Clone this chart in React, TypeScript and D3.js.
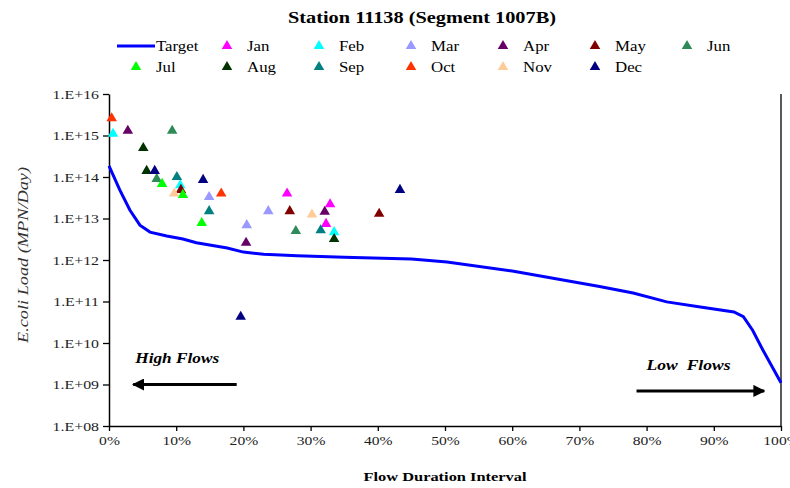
import React, { useEffect, useRef } from 'react';
import * as d3 from 'd3';

// Courbe cible (load duration curve)
const targetPct = [0, 1.6, 3.1, 4.6, 6.1, 8.6, 11, 13, 17.6, 20, 23, 28, 35, 45, 50.3, 60, 73, 78, 83, 88, 93, 94.4, 95.8, 97.3, 100];
const targetLoad = [1.86e14, 4.9e13, 1.6e13, 6.9e12, 4.7e12, 3.8e12, 3.2e12, 2.6e12, 1.95e12, 1.55e12, 1.38e12, 1.26e12, 1.17e12, 1.05e12, 8.9e11, 5.4e11, 2.3e11, 1.6e11, 9.8e10, 7.4e10, 5.6e10, 4.3e10, 2.0e10, 6.8e9, 1.1e9];

// Prélèvements
const months = ['Jan', 'Feb', 'Mar', 'Apr', 'May', 'Jun', 'Jul', 'Aug', 'Sep', 'Oct', 'Nov', 'Dec'];
const monthColors = ['#ff00ff', '#00ffff', '#9999ff', '#660066', '#800000', '#2e8b57', '#00ff00', '#003300', '#008080', '#ff3300', '#ffcc99', '#000080'];
const sampleMonth = ['Jan', 'Jan', 'Jan', 'Feb', 'Feb', 'Feb', 'Mar', 'Mar', 'Mar', 'Apr', 'Apr', 'Apr', 'May', 'May', 'May', 'Jun', 'Jun', 'Jun', 'Jul', 'Jul', 'Jul', 'Aug', 'Aug', 'Aug', 'Sep', 'Sep', 'Sep', 'Oct', 'Oct', 'Nov', 'Nov', 'Dec', 'Dec', 'Dec', 'Dec'];
const samplePct = [26.5, 32.9, 32.3, 0.6, 10.6, 33.5, 14.9, 20.5, 23.7, 2.8, 20.4, 32.1, 10.7, 26.9, 40.2, 9.4, 7.1, 27.8, 7.9, 11.0, 13.8, 5.1, 5.6, 33.5, 10.1, 14.9, 31.5, 0.4, 16.7, 9.7, 30.2, 6.8, 14.0, 43.3, 19.6];
const sampleLoad = [4.0e13, 2.2e13, 7.4e12, 1.1e15, 6.3e13, 4.7e12, 3.3e13, 6.9e12, 1.5e13, 1.3e15, 2.6e12, 1.45e13, 4.9e13, 1.5e13, 1.3e13, 1.3e15, 9e13, 5e12, 6.8e13, 3.7e13, 7.8e12, 5e14, 1.4e14, 3.2e12, 1.0e14, 1.5e13, 5.2e12, 2.6e15, 4e13, 4e13, 1.25e13, 1.4e14, 8.5e13, 4.9e13, 4.3e10];

const xTicks = [0, 10, 20, 30, 40, 50, 60, 70, 80, 90, 100];
const yTickExps = [8, 9, 10, 11, 12, 13, 14, 15, 16];

// Étire le texte horizontalement (le graphique d'origine est élargi)
const stretch = (sel: any, k: number) => {
  sel.each(function (this: SVGTextElement) {
    const w = this.getComputedTextLength();
    d3.select(this).attr('textLength', w * k).attr('lengthAdjust', 'spacingAndGlyphs');
  });
};

const App = () => {
  const ref = useRef<SVGSVGElement>(null);

  useEffect(() => {
    drawChart();
  }, []);

  const drawChart = () => {
    const svg = d3.select(ref.current);
    svg.selectAll('*').remove();

    const font = '"Liberation Serif", "Times New Roman", serif';
    const left = 109, right = 781, top = 94, bottom = 426;

    const x = d3.scaleLinear().domain([0, 100]).range([left, right]);
    const y = d3.scaleLog().domain([1e8, 1e16]).range([bottom, top]);

    // Titre
    svg.append('text')
      .attr('x', 422).attr('y', 23)
      .attr('text-anchor', 'middle')
      .style('font-family', font).style('font-size', '16px').style('font-weight', 'bold')
      .attr('textLength', 268).attr('lengthAdjust', 'spacingAndGlyphs')
      .text('Station 11138 (Segment 1007B)');

    // Axe Y
    const yAxis = svg.append('g')
      .attr('transform', `translate(${left},0)`)
      .call(d3.axisLeft(y)
        .tickValues(yTickExps.map(e => Math.pow(10, e)))
        .tickSize(6).tickSizeOuter(0)
        .tickFormat((d, i) => `1.E+${String(yTickExps[i]).padStart(2, '0')}`));
    yAxis.select('.domain').attr('stroke', '#000').attr('stroke-width', 1.5);
    yAxis.selectAll('line').attr('stroke', '#000').attr('stroke-width', 1.3);
    yAxis.selectAll('text')
      .attr('x', -10)
      .style('font-family', font).style('font-size', '13px').style('fill', '#222');
    stretch(yAxis.selectAll('text'), 1.22);

    // Axe X
    const xAxis = svg.append('g')
      .attr('transform', `translate(0,${bottom})`)
      .call(d3.axisBottom(x)
        .tickValues(xTicks)
        .tickSize(5).tickSizeOuter(0)
        .tickFormat(d => `${d}%`));
    xAxis.select('.domain').attr('stroke', '#000').attr('stroke-width', 1.5);
    xAxis.selectAll('line').attr('stroke', '#000').attr('stroke-width', 1.3);
    xAxis.selectAll('text')
      .attr('y', 10)
      .style('font-family', font).style('font-size', '13px').style('fill', '#222');
    stretch(xAxis.selectAll('text'), 1.2);

    // Bordure droite
    svg.append('line')
      .attr('x1', right).attr('x2', right)
      .attr('y1', top).attr('y2', bottom)
      .attr('stroke', '#000').attr('stroke-width', 1.3);

    // Titres des axes
    svg.append('text')
      .attr('transform', `translate(28,${(top + bottom) / 2 - 5}) rotate(-90)`)
      .attr('text-anchor', 'middle')
      .style('font-family', font).style('font-size', '14px').style('font-style', 'italic')
      .style('fill', '#333')
      .attr('textLength', 176).attr('lengthAdjust', 'spacingAndGlyphs')
      .text('E.coli  Load (MPN/Day)');

    svg.append('text')
      .attr('x', 445).attr('y', 481)
      .attr('text-anchor', 'middle')
      .style('font-family', font).style('font-size', '13px').style('font-weight', 'bold')
      .attr('textLength', 163).attr('lengthAdjust', 'spacingAndGlyphs')
      .text('Flow Duration Interval');

    // Annotations flux
    const arrowHead = svg.append('defs').append('marker')
      .attr('id', 'arrow')
      .attr('viewBox', '0 0 10 10')
      .attr('refX', 9).attr('refY', 5)
      .attr('markerWidth', 4).attr('markerHeight', 4)
      .attr('orient', 'auto');
    arrowHead.append('path').attr('d', 'M0,0 L10,5 L0,10 z').attr('fill', '#000');

    svg.append('line')
      .attr('x1', x(19)).attr('x2', x(3.6))
      .attr('y1', y(1e9)).attr('y2', y(1e9))
      .attr('stroke', '#000').attr('stroke-width', 3)
      .attr('marker-end', 'url(#arrow)');
    svg.append('text')
      .attr('x', x(3.9)).attr('y', y(1e9) - 22)
      .style('font-family', font).style('font-size', '14px')
      .style('font-weight', 'bold').style('font-style', 'italic')
      .attr('textLength', 84).attr('lengthAdjust', 'spacingAndGlyphs')
      .text('High Flows');

    svg.append('line')
      .attr('x1', x(78.5)).attr('x2', x(97.5))
      .attr('y1', y(7e8)).attr('y2', y(7e8))
      .attr('stroke', '#000').attr('stroke-width', 3)
      .attr('marker-end', 'url(#arrow)');
    svg.append('text')
      .attr('x', x(80)).attr('y', y(7e8) - 21)
      .style('font-family', font).style('font-size', '14px')
      .style('font-weight', 'bold').style('font-style', 'italic')
      .style('white-space', 'pre')
      .attr('textLength', 84).attr('lengthAdjust', 'spacingAndGlyphs')
      .text('Low  Flows');

    // Courbe cible
    const line = d3.line<number>()
      .x((d, i) => x(targetPct[i]))
      .y(d => y(d));
    svg.append('path')
      .datum(targetLoad)
      .attr('d', line)
      .attr('fill', 'none')
      .attr('stroke', '#0000ff')
      .attr('stroke-width', 3);

    // Points mensuels
    const color = d3.scaleOrdinal<string, string>().domain(months).range(monthColors);
    const tri = d3.symbol().type(d3.symbolTriangle).size(48);
    svg.selectAll('.pt')
      .data(sampleLoad)
      .enter().append('path')
      .attr('class', 'pt')
      .attr('d', tri)
      .attr('transform', (d, i) => `translate(${x(samplePct[i])},${y(d)})`)
      .attr('fill', (d, i) => color(sampleMonth[i]));

    // Légende
    const legend = svg.append('g').style('font-family', font).style('font-size', '14px');
    legend.append('line')
      .attr('x1', 117).attr('x2', 155).attr('y1', 46).attr('y2', 46)
      .attr('stroke', '#0000ff').attr('stroke-width', 3);
    legend.append('text').attr('x', 156).attr('y', 51).text('Target');

    months.forEach((m, i) => {
      const row = i < 6 ? 0 : 1;
      const col = i < 6 ? i + 1 : i - 6;
      const cx = col === 0 ? 136 : 227 + (col - 1) * 92;
      const cy = row === 0 ? 46 : 67;
      legend.append('path')
        .attr('d', tri)
        .attr('transform', `translate(${cx},${cy})`)
        .attr('fill', color(m));
      legend.append('text')
        .attr('x', col === 0 ? 156 : cx + 20).attr('y', cy + 5)
        .text(m);
    });
    stretch(legend.selectAll('text'), 1.2);
  };

  return (
    <svg ref={ref} width={790} height={488}
      style={{ position: 'absolute', left: 0, top: 0, background: '#fff' }} />
  );
};

export default App;
